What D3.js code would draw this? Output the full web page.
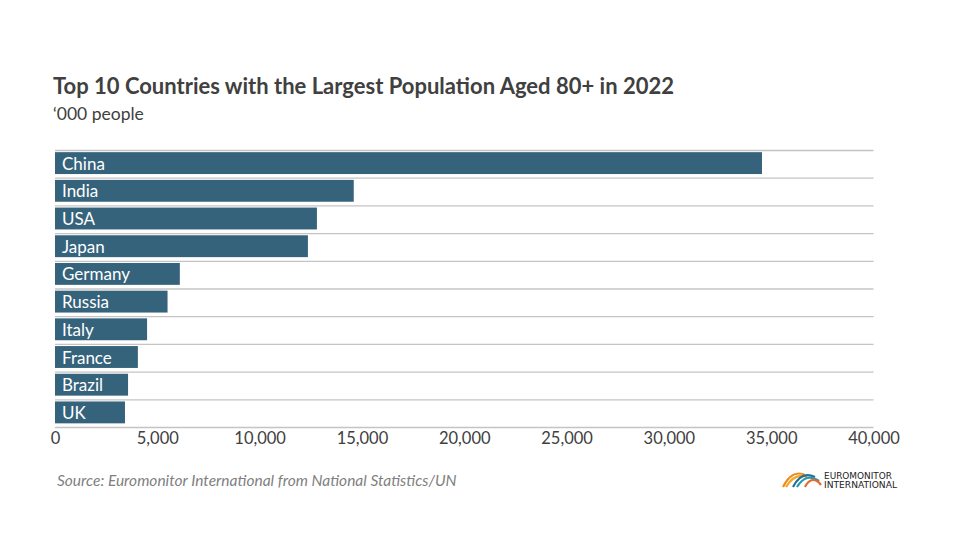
<!DOCTYPE html>
<html>
<head>
<meta charset="utf-8">
<script src="https://cdn.jsdelivr.net/npm/d3@7"></script>
<style>
  html, body { margin: 0; padding: 0; background: #fff; }
  svg { display: block; font-family: "Lato", "Open Sans", sans-serif; }
</style>
</head>
<body>
<svg id="chart" width="960" height="540"></svg>
<script>
const categories = ["China", "India", "USA", "Japan", "Germany", "Russia", "Italy", "France", "Brazil", "UK"];
const values = [34550, 14600, 12800, 12360, 6100, 5500, 4500, 4050, 3570, 3420];
const tickValues = [0, 5000, 10000, 15000, 20000, 25000, 30000, 35000, 40000];

const title = "Top 10 Countries with the Largest Population Aged 80+ in 2022";
const subtitle = "\u2018000 people";
const source = "Source: Euromonitor International from National Statistics/UN";

const svg = d3.select("#chart");

const x = d3.scaleLinear().domain([0, 40000]).range([55, 873.5]);
const y = d3.scaleBand().domain(categories).range([150.5, 427.5]).padding(0);

// title + subtitle
svg.append("text").attr("x", 53).attr("y", 94)
  .attr("font-size", 22).attr("font-weight", 700).attr("fill", "#404040")
  .text(title);
svg.append("text").attr("x", 53).attr("y", 120)
  .attr("font-size", 17.5).attr("fill", "#404040")
  .text(subtitle);

// gridlines (category boundaries)
const boundaries = categories.map(c => y(c)).concat([y.range()[1]]);
svg.append("g").selectAll("line").data(boundaries).join("line")
  .attr("x1", x(0)).attr("x2", x(40000))
  .attr("y1", d => d).attr("y2", d => d)
  .attr("stroke", "#c4c4c4").attr("stroke-width", 1.3);

// bars
const bw = y.bandwidth();
svg.append("g").selectAll("rect").data(categories).join("rect")
  .attr("x", x(0))
  .attr("y", c => y(c) + bw * 0.06)
  .attr("width", (c, i) => x(values[i]) - x(0))
  .attr("height", bw * 0.79)
  .attr("fill", "#36637c");

// labels inside bars
svg.append("g").selectAll("text").data(categories).join("text")
  .attr("x", x(0) + 7)
  .attr("y", c => y(c) + bw * 0.06 + bw * 0.79 / 2 + 6.5)
  .attr("font-size", 17).attr("fill", "#ffffff")
  .text(c => c);

// x axis
const axis = d3.axisBottom(x).tickValues(tickValues).tickFormat(d3.format(",")).tickSize(0).tickPadding(0);
const ag = svg.append("g").attr("transform", `translate(0, ${y.range()[1]})`).call(axis);
ag.select(".domain").remove();
ag.selectAll("text")
  .attr("dy", null).attr("y", 16)
  .attr("font-size", 16.5).attr("font-family", "Lato, 'Open Sans', sans-serif")
  .attr("fill", "#404040");

// source
svg.append("text").attr("x", 57).attr("y", 486)
  .attr("font-size", 15.5).attr("font-style", "italic").attr("fill", "#7f7f7f")
  .text(source);

// logo
const logo = svg.append("g").attr("transform", "translate(783, 471)");
const stripes = [
  {c: "#f08a1c", d: "M0,16 C6,4 14,0 22,4"},
  {c: "#f5a623", d: "M3,16 C9,6 16,3 24,6"},
  {c: "#2b6f8e", d: "M10,16 C16,4 24,2 32,6"},
  {c: "#1f9bb0", d: "M14,16 C20,6 28,4 36,10"},
  {c: "#e8692b", d: "M22,16 C26,8 32,6 38,14"}
];
logo.selectAll("path").data(stripes).join("path")
  .attr("d", d => d.d).attr("fill", "none").attr("stroke", d => d.c).attr("stroke-width", 2.2);
logo.append("text").attr("x", 41).attr("y", 7.5).attr("font-size", 8.5)
  .attr("font-family", "'DejaVu Sans Condensed', 'Liberation Sans Narrow', sans-serif")
  .attr("textLength", 68).attr("lengthAdjust", "spacingAndGlyphs")
  .attr("fill", "#222").text("EUROMONITOR");
logo.append("text").attr("x", 41).attr("y", 17).attr("font-size", 8.5)
  .attr("font-family", "'DejaVu Sans Condensed', 'Liberation Sans Narrow', sans-serif")
  .attr("textLength", 73).attr("lengthAdjust", "spacingAndGlyphs")
  .attr("fill", "#222").text("INTERNATIONAL");
</script>
</body>
</html>
